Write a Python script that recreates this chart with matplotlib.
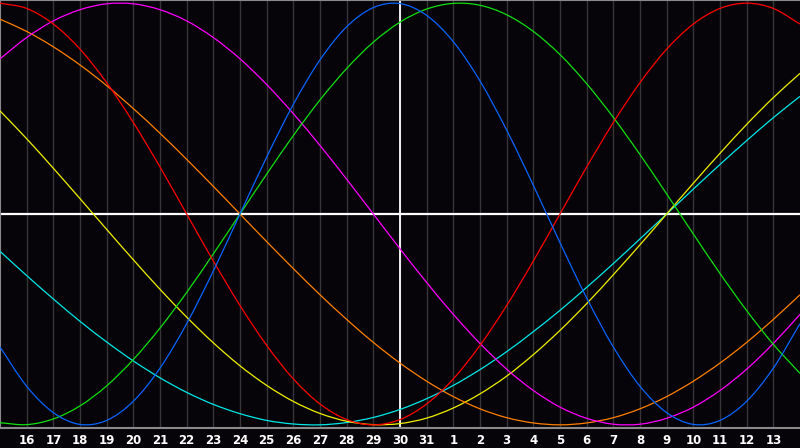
import matplotlib
matplotlib.use("Agg")
import matplotlib.pyplot as plt
from matplotlib.path import Path
from matplotlib.patches import PathPatch

# Day labels along the bottom (gridline positions 1..29), window spans 30 days
day_labels = [16, 17, 18, 19, 20, 21, 22, 23, 24, 25, 26, 27, 28, 29, 30, 31,
              1, 2, 3, 4, 5, 6, 7, 8, 9, 10, 11, 12, 13]
# day index 0 = left edge (15th), 30 = right edge (14th)
days = list(range(31))

physical = [-0.631, -0.817, -0.942, -0.998, -0.979, -0.888, -0.731, -0.520, -0.270, 0.000,
            0.270, 0.520, 0.731, 0.888, 0.979, 0.998, 0.942, 0.817, 0.631, 0.398,
            0.136, -0.136, -0.398, -0.631, -0.817, -0.942, -0.998, -0.979, -0.888, -0.731, -0.520]
emotional = [1.000, 0.975, 0.901, 0.782, 0.623, 0.434, 0.223, 0.000, -0.223, -0.434,
             -0.623, -0.782, -0.901, -0.975, -1.000, -0.975, -0.901, -0.782, -0.623, -0.434,
             -0.223, 0.000, 0.223, 0.434, 0.623, 0.782, 0.901, 0.975, 1.000, 0.975, 0.901]
intellectual = [-0.990, -0.999, -0.972, -0.910, -0.815, -0.690, -0.541, -0.372, -0.189, 0.000,
                0.189, 0.372, 0.541, 0.690, 0.815, 0.910, 0.972, 0.999, 0.990, 0.945,
                0.866, 0.756, 0.618, 0.458, 0.282, 0.095, -0.095, -0.282, -0.458, -0.618, -0.756]
intuitive = [0.736, 0.837, 0.916, 0.969, 0.997, 0.997, 0.969, 0.916, 0.837, 0.736,
             0.614, 0.476, 0.325, 0.165, 0.000, -0.165, -0.325, -0.476, -0.614, -0.736,
             -0.837, -0.916, -0.969, -0.997, -0.997, -0.969, -0.916, -0.837, -0.736, -0.614, -0.476]
aesthetic = [0.489, 0.357, 0.217, 0.073, -0.073, -0.217, -0.357, -0.489, -0.611, -0.720,
             -0.813, -0.889, -0.946, -0.983, -0.999, -0.994, -0.968, -0.920, -0.853, -0.769,
             -0.667, -0.552, -0.425, -0.288, -0.146, 0.000, 0.146, 0.288, 0.425, 0.552, 0.667]
awareness = [0.924, 0.866, 0.793, 0.707, 0.609, 0.500, 0.383, 0.259, 0.131, 0.000,
             -0.131, -0.259, -0.383, -0.500, -0.609, -0.707, -0.793, -0.866, -0.924, -0.966,
             -0.991, -1.000, -0.991, -0.966, -0.924, -0.866, -0.793, -0.707, -0.609, -0.500, -0.383]
spiritual = [-0.177, -0.292, -0.403, -0.509, -0.607, -0.697, -0.777, -0.846, -0.903, -0.947,
             -0.979, -0.996, -1.000, -0.989, -0.965, -0.927, -0.876, -0.813, -0.738, -0.653,
             -0.558, -0.457, -0.348, -0.235, -0.118, 0.000, 0.118, 0.235, 0.348, 0.457, 0.558]

series = [
    (spiritual, "#00e8e8"),
    (aesthetic, "#f0f000"),
    (awareness, "#ff8000"),
    (intuitive, "#ff00ff"),
    (intellectual, "#10e010"),
    (emotional, "#ff0000"),
    (physical, "#0a64ff"),
]


def smooth_path(xs, ys):
    """Catmull-Rom style cubic Bezier path through the data points (rendering only)."""
    n = len(xs)
    verts = [(xs[0], ys[0])]
    codes = [Path.MOVETO]
    for i in range(n - 1):
        x0, y0 = (xs[i - 1], ys[i - 1]) if i > 0 else (2 * xs[0] - xs[1], 2 * ys[0] - ys[1])
        x1, y1 = xs[i], ys[i]
        x2, y2 = xs[i + 1], ys[i + 1]
        x3, y3 = (xs[i + 2], ys[i + 2]) if i + 2 < n else (2 * xs[-1] - xs[-2], 2 * ys[-1] - ys[-2])
        verts += [(x1 + (x2 - x0) / 6, y1 + (y2 - y0) / 6),
                  (x2 - (x3 - x1) / 6, y2 - (y3 - y1) / 6),
                  (x2, y2)]
        codes += [Path.CURVE4] * 3
    return Path(verts, codes)


fig = plt.figure(figsize=(8.0, 4.48), dpi=100)
fig.patch.set_facecolor("#060408")
ax = fig.add_axes([0.0, 20 / 448, 1.0, 428 / 448])
ax.set_facecolor("#060408")

ax.set_xlim(0, 30)
ax.set_ylim(-1.015, 1.015)

# vertical day gridlines
for i in range(1, 30):
    ax.axvline(i, color="#363636", lw=1.0, zorder=1)

ax.axhline(0, color="white", lw=1.6, zorder=2)
ax.axvline(15, color="white", lw=1.3, zorder=2)

for vals, col in series:
    ax.add_patch(PathPatch(smooth_path(days, vals), facecolor="none",
                           edgecolor=col, lw=0.9, zorder=3))

ax.set_xticks(range(1, 30))
ax.set_xticklabels([str(d) for d in day_labels], color="white",
                   fontsize=8.5, fontweight="bold", family="DejaVu Sans")
ax.tick_params(axis="x", length=0, pad=4)
ax.set_yticks([])

for side in ["top", "left", "bottom"]:
    ax.spines[side].set_color("#8a8a8a")
    ax.spines[side].set_linewidth(1.5)
ax.spines["right"].set_visible(False)

fig.savefig("out.png", dpi=100, facecolor=fig.get_facecolor())
